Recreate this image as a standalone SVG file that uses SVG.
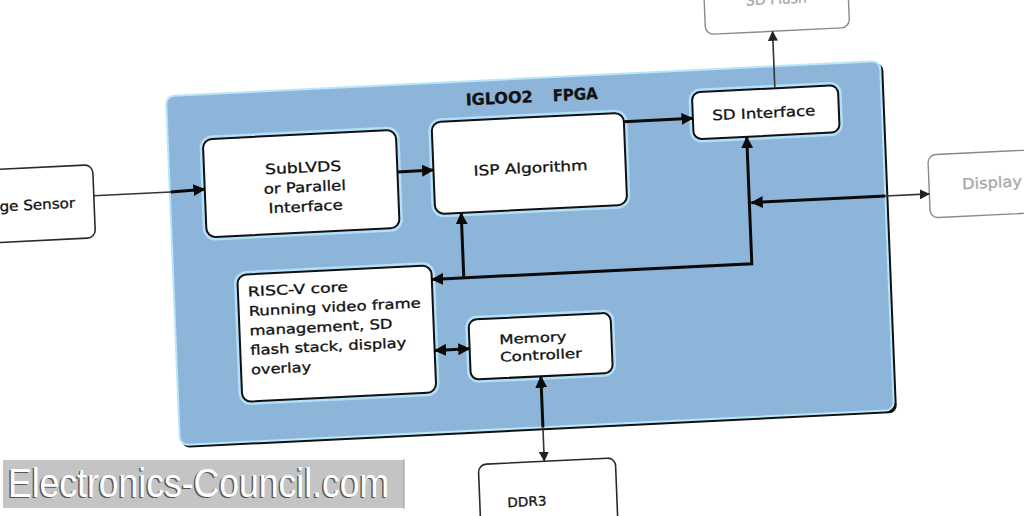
<svg xmlns="http://www.w3.org/2000/svg" width="1024" height="516" viewBox="0 0 1024 516">
<defs>
<style>
.t{font-family:'DejaVu Sans',Verdana,sans-serif;fill:#111;stroke:#111;stroke-width:0.3;}
.halo{fill:none;stroke:#b3e0f8;stroke-width:7;}
.ib{fill:#fff;stroke:#111;stroke-width:2;}
.ob{fill:#fff;stroke:#2a2a2a;stroke-width:1.6;}
.fb{fill:#fff;stroke:#8a8a8a;stroke-width:1.4;}
.ft{fill:#a8a8a8;stroke:#a8a8a8;}
.thk{fill:none;stroke:#0a0a0a;stroke-width:3;}
.thn{fill:none;stroke:#333;stroke-width:1.6;}
</style>
<marker id="a" viewBox="0 0 10 10" refX="9.5" refY="5" markerWidth="12" markerHeight="12" markerUnits="userSpaceOnUse" orient="auto-start-reverse"><path d="M0,0L10,5L0,10z" fill="#0a0a0a"/></marker>
<marker id="s" viewBox="0 0 10 10" refX="9.5" refY="5" markerWidth="10" markerHeight="10" markerUnits="userSpaceOnUse" orient="auto-start-reverse"><path d="M0,0L10,5L0,10z" fill="#222"/></marker>
</defs>
<rect width="1024" height="516" fill="#fff"/>
<g transform="matrix(1,-0.049,0.04,1,167,97)">
<g id="fpga">
<rect x="1" y="1" width="715" height="350" rx="8" fill="#111"/>
<rect x="-1" y="-1" width="714" height="349" rx="8" fill="#8db5da" stroke="#b8e6fa" stroke-width="2"/>
<text class="t" font-size="16" font-weight="bold" y="23"><tspan x="298" textLength="67" lengthAdjust="spacingAndGlyphs">IGLOO2</tspan><tspan x="385" textLength="45" lengthAdjust="spacingAndGlyphs">FPGA</tspan></text>
</g>
<g id="sensor">
<rect class="ob" x="-240" y="64" width="163" height="73" rx="8"/>
<text class="t" font-size="14" x="-96" y="106" text-anchor="end" textLength="104" lengthAdjust="spacingAndGlyphs">Image Sensor</text>
</g>
<g id="sdflash">
<rect class="fb" x="540" y="-110" width="144" height="74" rx="8"/>
<text class="t ft" font-size="14" x="612" y="-63" text-anchor="middle">SD Flash</text>
</g>
<g id="display">
<rect class="fb" x="757" y="95" width="170" height="63" rx="8"/>
<text class="t ft" font-size="15" x="790" y="131" textLength="60" lengthAdjust="spacingAndGlyphs">Display</text>
</g>
<g id="ddr3">
<rect class="ob" x="296" y="382" width="137" height="95" rx="8"/>
<text class="t" font-size="13" x="343" y="426" text-anchor="middle" textLength="39" lengthAdjust="spacingAndGlyphs">DDR3</text>
</g>
<g id="sublvds">
<rect class="halo" x="34" y="44" width="193" height="98" rx="9"/>
<rect class="ib" x="34" y="44" width="193" height="98" rx="9"/>
<text class="t" font-size="14" text-anchor="middle"><tspan x="133" y="82" textLength="76" lengthAdjust="spacingAndGlyphs">SubLVDS</tspan><tspan x="134" y="101.5" textLength="82" lengthAdjust="spacingAndGlyphs">or Parallel</tspan><tspan x="134" y="121" textLength="74" lengthAdjust="spacingAndGlyphs">Interface</tspan></text>
</g>
<g id="isp">
<rect class="halo" x="263" y="38" width="192" height="92" rx="9"/>
<rect class="ib" x="263" y="38" width="192" height="92" rx="9"/>
<text class="t" font-size="14" x="360" y="93.5" text-anchor="middle" textLength="114" lengthAdjust="spacingAndGlyphs">ISP Algorithm</text>
</g>
<g id="sdif">
<rect class="halo" x="524" y="21" width="146" height="47" rx="8"/>
<rect class="ib" x="524" y="21" width="146" height="47" rx="8"/>
<text class="t" font-size="14" x="595" y="50" text-anchor="middle" textLength="103" lengthAdjust="spacingAndGlyphs">SD Interface</text>
</g>
<g id="riscv">
<rect class="halo" x="63" y="181" width="194" height="127" rx="9"/>
<rect class="ib" x="63" y="181" width="194" height="127" rx="9"/>
<text class="t" font-size="13.5" x="73"><tspan x="73" y="203" textLength="100" lengthAdjust="spacingAndGlyphs">RISC-V core</tspan><tspan x="73" y="222.5" textLength="172" lengthAdjust="spacingAndGlyphs">Running video frame</tspan><tspan x="73" y="242" textLength="143" lengthAdjust="spacingAndGlyphs">management, SD</tspan><tspan x="73" y="261.5" textLength="156" lengthAdjust="spacingAndGlyphs">flash stack, display</tspan><tspan x="73" y="281" textLength="60" lengthAdjust="spacingAndGlyphs">overlay</tspan></text>
</g>
<g id="memctrl">
<rect class="halo" x="292" y="237" width="142" height="60" rx="8"/>
<rect class="ib" x="292" y="237" width="142" height="60" rx="8"/>
<text class="t" font-size="13"><tspan x="322" y="263" textLength="67" lengthAdjust="spacingAndGlyphs">Memory</tspan><tspan x="322" y="280.5" textLength="82" lengthAdjust="spacingAndGlyphs">Controller</tspan></text>
</g>
<g id="connectors">
<path class="thn" d="M-77,95 H0"/>
<path class="thk" d="M0,95 L34,94" marker-end="url(#a)"/>
<path class="thk" d="M227,86 H263" marker-end="url(#a)"/>
<path class="thk" d="M455,47 H524" marker-end="url(#a)"/>
<path class="thn" d="M607,21 V-36" marker-end="url(#s)"/>
<path class="thk" d="M257,195 H577 V68" marker-start="url(#a)" marker-end="url(#a)"/>
<path class="thk" d="M289,195 V130" marker-end="url(#a)"/>
<path class="thk" d="M713,134 H579" marker-end="url(#a)"/>
<path class="thn" d="M713,134 H757" marker-end="url(#s)"/>
<path class="thk" d="M257,266 H292" marker-start="url(#a)" marker-end="url(#a)"/>
<path class="thk" d="M362,348 V297" marker-end="url(#a)"/>
<path class="thn" d="M362,348 V382" marker-end="url(#s)"/>
</g>
</g>
<g id="watermark">
<rect x="3" y="460" width="401" height="48" fill="#c4c4c4"/>
<line x1="404" y1="459" x2="404" y2="509" stroke="#999" stroke-width="1"/>
<text x="6.5" y="498" font-family="'Liberation Sans',Arial,sans-serif" font-size="41" fill="#555" textLength="381" lengthAdjust="spacingAndGlyphs">Electronics-Council.com</text>
<text x="8" y="497" font-family="'Liberation Sans',Arial,sans-serif" font-size="41" fill="#fff" textLength="381" lengthAdjust="spacingAndGlyphs">Electronics-Council.com</text>
</g>
</svg>
